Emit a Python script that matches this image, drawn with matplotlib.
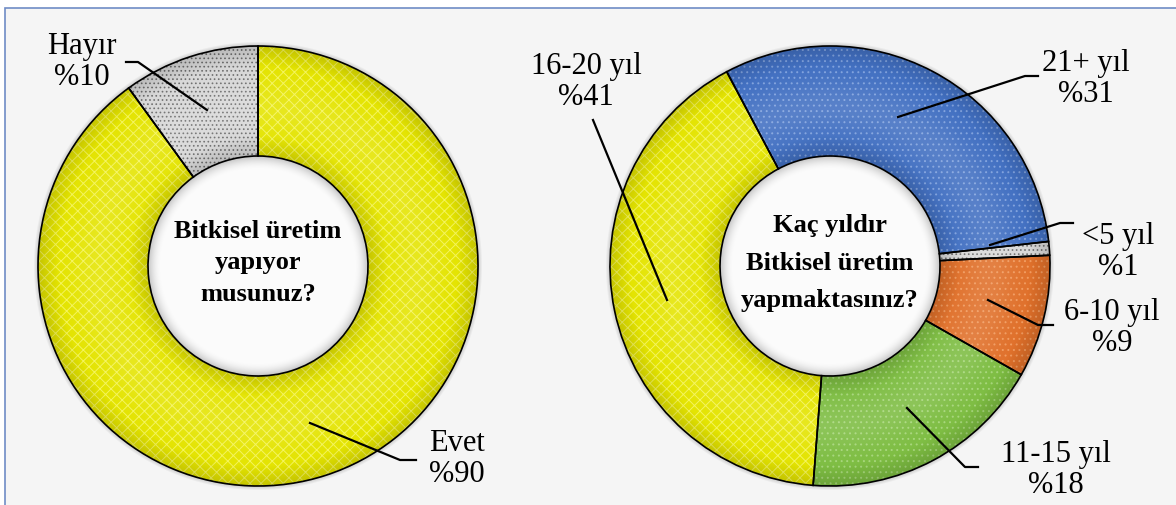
import numpy as np
import matplotlib.pyplot as plt
from matplotlib.patches import Rectangle, Circle

plt.rcParams['hatch.linewidth'] = 0.7

# --- data ---
q1_labels = ['Evet', 'Hayır']
q1_values = [90, 10]
q1_title = 'Bitkisel üretim\nyapıyor\nmusunuz?'

q2_labels = ['21+ yıl', '<5 yıl', '6-10 yıl', '11-15 yıl', '16-20 yıl']
q2_values = [31, 1, 9, 18, 41]
q2_title = 'Kaç yıldır\nBitkisel üretim\nyapmaktasınız?'

# --- styles ---
YEL, YEL_H = '#e4e400', '#f4f45a'
GRY, GRY_H = '#d8d8d8', '#6e6e6e'
q1_faces = [YEL, GRY]
q1_hcols = [YEL_H, GRY_H]
q1_hatch = ['xxx', '....']
q2_faces = ['#4270c2', GRY, '#e0702a', '#7dbd42', YEL]
q2_hcols = ['#7fa1dd', GRY_H, '#f19a5e', '#a6d67a', YEL_H]
q2_hatch = ['...', '....', '...', '...', 'xxx']

W, H = 1176, 505
R_OUT, R_IN = 220, 110
SERIF = 'Liberation Serif'

fig = plt.figure(figsize=(W / 100, H / 100), dpi=100)
ax = fig.add_axes([0, 0, 1, 1])

def Y(py):
    return H - py

# background frame
ax.add_patch(Rectangle((5, -10), W + 20, Y(8) + 10, facecolor='#f5f5f5',
                       edgecolor='#6f8cc6', linewidth=1.2, zorder=0))


def shade(cx, cy):
    n = 480
    xs = np.linspace(cx - 240, cx + 240, n)
    ys = np.linspace(cy - 240, cy + 240, n)
    X, Yg = np.meshgrid(xs, ys)
    r = np.hypot(X - cx, Yg - cy)
    t = (r - R_IN) / (R_OUT - R_IN)
    ring = (t >= 0) & (t <= 1)
    light = np.where(ring, 0.12 * np.exp(-((t - 0.45) / 0.25) ** 2), 0)
    dark = np.where(ring, 0.14 * np.clip(1 - np.sin(np.pi * np.clip(t, 0, 1)) * 1.8, 0, 1), 0)
    dark = np.where(r < R_IN, 0.22 * np.clip((r - (R_IN - 14)) / 14, 0, 1) ** 2, dark)
    dark = np.where(r > R_OUT, 0.2 * np.clip(1 - (r - R_OUT) / 5, 0, 1), dark)
    img = np.zeros((n, n, 4))
    img[..., 3] = dark
    ax.imshow(img, extent=(cx - 240, cx + 240, cy - 240, cy + 240), origin='lower',
              zorder=2, interpolation='bilinear')
    img = np.ones((n, n, 4))
    img[..., 3] = light
    ax.imshow(img, extent=(cx - 240, cx + 240, cy - 240, cy + 240), origin='lower',
              zorder=2, interpolation='bilinear')


def donut(cx, cy, values, faces, hcols, hatches, start, title, tspacing):
    ax.add_patch(Circle((cx, cy), R_IN, facecolor='#fbfbfb', edgecolor='none', zorder=1.5))
    wedges, _ = ax.pie(values, colors=faces, hatch=hatches, startangle=start,
                       counterclock=False, center=(cx, cy), radius=R_OUT,
                       wedgeprops=dict(width=R_OUT - R_IN, linewidth=0))
    for w, hc in zip(wedges, hcols):
        w.set_edgecolor(hc)
        w.set_zorder(1)
    shade(cx, cy)
    outl, _ = ax.pie(values, startangle=start, counterclock=False, center=(cx, cy),
                     radius=R_OUT, wedgeprops=dict(width=R_OUT - R_IN, linewidth=1.2,
                                                   edgecolor='black', fill=False))
    for w in outl:
        w.set_zorder(3)
    ax.text(cx, cy + 3, title, ha='center', va='center', fontsize=19,
            fontweight='bold', family=SERIF, linespacing=tspacing, zorder=5)


donut(258, Y(266), q1_values, q1_faces, q1_hcols, q1_hatch, 90, q1_title, 1.45)
donut(830, Y(266), q2_values, q2_faces, q2_hcols, q2_hatch, 118, q2_title, 1.8)

# labels and leader lines (pixel positions, y from top)
q1_pos = [(457, 459), (82, 62)]
q1_lines = [[(310, 423), (400, 460), (416, 460)],
            [(126, 62), (138, 62), (207, 110)]]
q2_pos = [(1086, 79), (1118, 252), (1112, 328), (1056, 470), (586, 82)]
q2_lines = [[(1038, 76), (1025, 76), (898, 117)],
            [(1073, 223), (1060, 223), (990, 245)],
            [(988, 300), (1038, 325), (1053, 325)],
            [(907, 408), (965, 467), (978, 467)],
            [(593, 120), (667, 300)]]

for labels, values, pos, lines in [(q1_labels, q1_values, q1_pos, q1_lines),
                                   (q2_labels, q2_values, q2_pos, q2_lines)]:
    for lab, v, (px, py), ln in zip(labels, values, pos, lines):
        ax.text(px, Y(py), f'{lab}\n%{v}', ha='center', va='center', fontsize=22,
                family=SERIF, linespacing=1.05, zorder=5)
        xs = [p[0] for p in ln]
        ys = [Y(p[1]) for p in ln]
        ax.plot(xs, ys, color='black', linewidth=1.6, zorder=4)

ax.set_xlim(0, W)
ax.set_ylim(0, H)
ax.set_aspect('auto')
ax.axis('off')
fig.savefig('out.png', dpi=100, facecolor='white')
